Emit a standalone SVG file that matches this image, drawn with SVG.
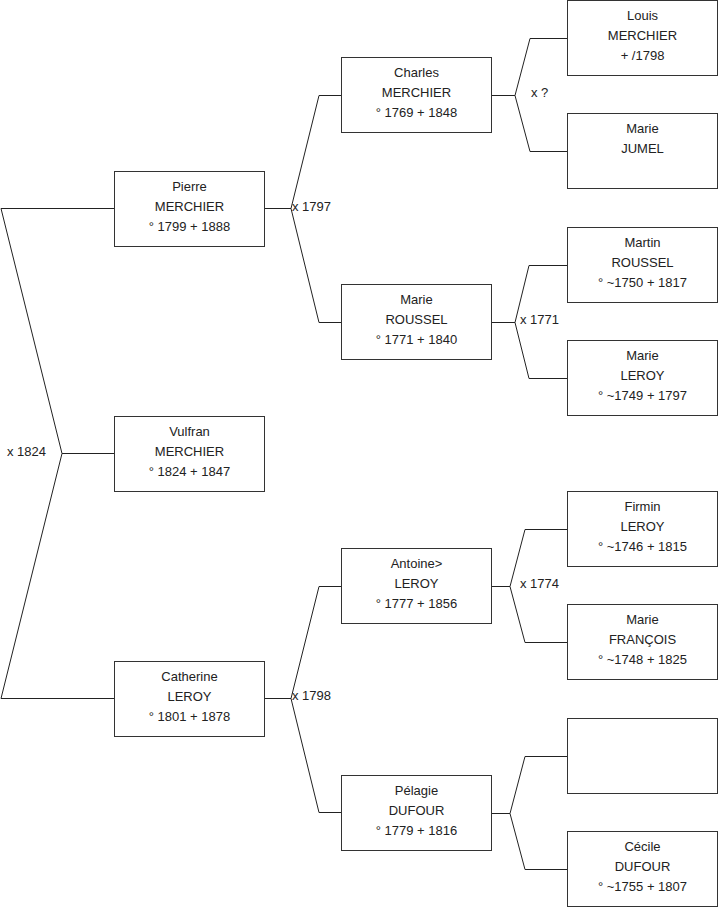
<svg xmlns="http://www.w3.org/2000/svg" width="719" height="908" viewBox="0 0 719 908">
<style>
.box{fill:#fff;stroke:#333;stroke-width:1}
.t{font-family:"Liberation Sans",Arial,sans-serif;font-size:13px;fill:#222;text-anchor:middle}
.l{font-family:"Liberation Sans",Arial,sans-serif;font-size:13px;fill:#222}
.c{fill:none;stroke:#222;stroke-width:1}
</style>
<rect width="719" height="908" fill="#fff"/>
<g id="connectors">
<path class="c" d="M114,208.5 H1 L62,453.5 H114 M62,453.5 L1,698.5 H114"/>
<path class="c" d="M265,208.5 H291 L319,95.5 H341 M291,208.5 L319,322.5 H341"/>
<path class="c" d="M265,698.5 H291 L319,586.5 H341 M291,698.5 L319,812.5 H341"/>
<path class="c" d="M492,95.5 H515 L530,38.5 H567 M515,95.5 L530,151.5 H567"/>
<path class="c" d="M492,322.5 H515 L529,265.5 H567 M515,322.5 L529,378.5 H567"/>
<path class="c" d="M492,586.5 H510 L525,529.5 H567 M510,586.5 L525,642.5 H567"/>
<path class="c" d="M492,813.5 H510 L525,756.5 H567 M510,813.5 L525,869.5 H567"/>
<text class="l" x="7" y="456">x 1824</text>
<text class="l" x="292" y="211">x 1797</text>
<text class="l" x="292" y="700">x 1798</text>
<text class="l" x="531" y="97">x ?</text>
<text class="l" x="520" y="324">x 1771</text>
<text class="l" x="520" y="588">x 1774</text>
</g>
<g id="pierre"><rect class="box" x="114.5" y="171.5" width="150" height="75"/>
<text class="t" x="189.5" y="191">Pierre</text><text class="t" x="189.5" y="211">MERCHIER</text><text class="t" x="189.5" y="231">° 1799 + 1888</text></g>
<g id="vulfran"><rect class="box" x="114.5" y="416.5" width="150" height="75"/>
<text class="t" x="189.5" y="436">Vulfran</text><text class="t" x="189.5" y="456">MERCHIER</text><text class="t" x="189.5" y="476">° 1824 + 1847</text></g>
<g id="catherine"><rect class="box" x="114.5" y="661.5" width="150" height="75"/>
<text class="t" x="189.5" y="681">Catherine</text><text class="t" x="189.5" y="701">LEROY</text><text class="t" x="189.5" y="721">° 1801 + 1878</text></g>
<g id="charles"><rect class="box" x="341.5" y="57.5" width="150" height="75"/>
<text class="t" x="416.5" y="77">Charles</text><text class="t" x="416.5" y="97">MERCHIER</text><text class="t" x="416.5" y="117">° 1769 + 1848</text></g>
<g id="marie-roussel"><rect class="box" x="341.5" y="284.5" width="150" height="75"/>
<text class="t" x="416.5" y="304">Marie</text><text class="t" x="416.5" y="324">ROUSSEL</text><text class="t" x="416.5" y="344">° 1771 + 1840</text></g>
<g id="antoine"><rect class="box" x="341.5" y="548.5" width="150" height="75"/>
<text class="t" x="416.5" y="568">Antoine&gt;</text><text class="t" x="416.5" y="588">LEROY</text><text class="t" x="416.5" y="608">° 1777 + 1856</text></g>
<g id="pelagie"><rect class="box" x="341.5" y="775.5" width="150" height="75"/>
<text class="t" x="416.5" y="795">Pélagie</text><text class="t" x="416.5" y="815">DUFOUR</text><text class="t" x="416.5" y="835">° 1779 + 1816</text></g>
<g id="louis"><rect class="box" x="567.5" y="0.5" width="150" height="75"/>
<text class="t" x="642.5" y="20">Louis</text><text class="t" x="642.5" y="40">MERCHIER</text><text class="t" x="642.5" y="60">+ /1798</text></g>
<g id="marie-jumel"><rect class="box" x="567.5" y="113.5" width="150" height="75"/>
<text class="t" x="642.5" y="133">Marie</text><text class="t" x="642.5" y="153">JUMEL</text></g>
<g id="martin"><rect class="box" x="567.5" y="227.5" width="150" height="75"/>
<text class="t" x="642.5" y="247">Martin</text><text class="t" x="642.5" y="267">ROUSSEL</text><text class="t" x="642.5" y="287">° ~1750 + 1817</text></g>
<g id="marie-leroy"><rect class="box" x="567.5" y="340.5" width="150" height="75"/>
<text class="t" x="642.5" y="360">Marie</text><text class="t" x="642.5" y="380">LEROY</text><text class="t" x="642.5" y="400">° ~1749 + 1797</text></g>
<g id="firmin"><rect class="box" x="567.5" y="491.5" width="150" height="75"/>
<text class="t" x="642.5" y="511">Firmin</text><text class="t" x="642.5" y="531">LEROY</text><text class="t" x="642.5" y="551">° ~1746 + 1815</text></g>
<g id="marie-francois"><rect class="box" x="567.5" y="604.5" width="150" height="75"/>
<text class="t" x="642.5" y="624">Marie</text><text class="t" x="642.5" y="644">FRANÇOIS</text><text class="t" x="642.5" y="664">° ~1748 + 1825</text></g>
<g id="unknown"><rect class="box" x="567.5" y="718.5" width="150" height="75"/></g>
<g id="cecile"><rect class="box" x="567.5" y="831.5" width="150" height="75"/>
<text class="t" x="642.5" y="851">Cécile</text><text class="t" x="642.5" y="871">DUFOUR</text><text class="t" x="642.5" y="891">° ~1755 + 1807</text></g>
</svg>
